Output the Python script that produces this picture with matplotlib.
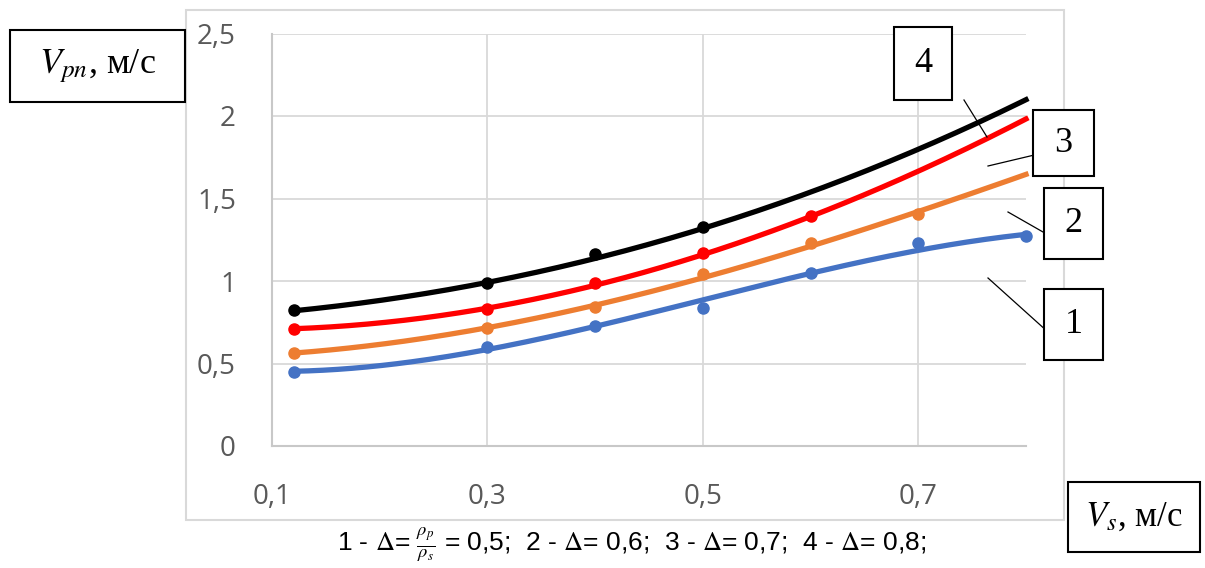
import numpy as np
import matplotlib.pyplot as plt
from matplotlib.patches import Rectangle
from matplotlib.lines import Line2D
from matplotlib.ticker import FuncFormatter

plt.rcParams['font.family'] = ['Open Sans', 'DejaVu Sans']
plt.rcParams['mathtext.fontset'] = 'stix'

W, H = 1205, 568

# точки (маркеры) по сериям
x_pts = [0.12, 0.3, 0.4, 0.5, 0.6, 0.7, 0.8]
v1_pts = [0.45, 0.60, 0.727, 0.835, 1.05, 1.228, 1.27]
v2_pts = [0.565, 0.713, 0.845, 1.042, 1.228, 1.406]
v3_pts = [0.707, 0.828, 0.986, 1.17, 1.394]
v4_pts = [0.824, 0.986, 1.164, 1.33]

# линии тренда
x_line = [0.12, 0.2, 0.3, 0.4, 0.5, 0.6, 0.7, 0.8]
v1_line = [0.45, 0.49, 0.59, 0.72, 0.88, 1.05, 1.19, 1.28]
v2_line = [0.565, 0.612, 0.72, 0.85, 1.02, 1.22, 1.41, 1.65]
v3_line = [0.707, 0.753, 0.835, 0.97, 1.16, 1.39, 1.67, 1.98]
v4_line = [0.824, 0.875, 0.985, 1.15, 1.32, 1.53, 1.80, 2.10]

colors = ['#4472C4', '#ED7D31', '#FF0000', '#000000']
x_ticks = [0.1, 0.3, 0.5, 0.7]
y_ticks = [0, 0.5, 1, 1.5, 2, 2.5]
caption = (r'1 - $\Delta$= $\frac{\rho_p}{\rho_s}$ = 0,5;  2 - $\Delta$= 0,6;  '
           r'3 - $\Delta$= 0,7;  4 - $\Delta$= 0,8;')

fig = plt.figure(figsize=(W / 100, H / 100), dpi=100)
ax = fig.add_axes([272 / W, 1 - 446 / H, (1026 - 272) / W, (446 - 33.5) / H])

xs = np.linspace(min(x_line), max(x_line), 200)
lines = [v1_line, v2_line, v3_line, v4_line]
pts = [v1_pts, v2_pts, v3_pts, v4_pts]
for yl, yp, c in zip(lines, pts, colors):
    k = np.polyfit(x_line, yl, 3)
    ax.plot(xs, np.polyval(k, xs), color=c, lw=3.8, clip_on=False, zorder=3)
    ax.plot(x_pts[:len(yp)], yp, 'o', color=c, ms=8, clip_on=False, zorder=4)

ax.set_xlim(0.1, 0.8)
ax.set_ylim(0, 2.5)
ax.set_xticks(x_ticks)
ax.set_yticks(y_ticks)
fmt = FuncFormatter(lambda v, p: ('%g' % v).replace('.', ','))
ax.xaxis.set_major_formatter(fmt)
ax.yaxis.set_major_formatter(fmt)
ax.grid(True, color='#d9d9d9', lw=1.3, zorder=0)
ax.set_axisbelow(True)
for s in ['top', 'right']:
    ax.spines[s].set_visible(False)
for s in ['left', 'bottom']:
    ax.spines[s].set_color('#c8c8c8')
    ax.spines[s].set_linewidth(1.5)
ax.tick_params(axis='both', length=0, labelsize=20, labelcolor='#595959')
ax.tick_params(axis='x', pad=27)
ax.tick_params(axis='y', pad=26)

# рамка области диаграммы
fig.patches.append(Rectangle((186 / W, 1 - 520 / H), (1064 - 186) / W, (520 - 10) / H,
                             transform=fig.transFigure, fill=False, ec='#d9d9d9', lw=1.5))


def box(x0, y0, x1, y1, text, size):
    fig.patches.append(Rectangle((x0 / W, 1 - y1 / H), (x1 - x0) / W, (y1 - y0) / H,
                                 transform=fig.transFigure, fill=True, fc='white',
                                 ec='black', lw=1.5, zorder=5))
    fig.text((x0 + x1) / 2 / W, 1 - (y0 + y1) / 2 / H, text, ha='center', va='center',
             fontsize=size, family=['Liberation Serif', 'DejaVu Serif'], zorder=6)


def leader(x0, y0, x1, y1):
    fig.lines.append(Line2D([x0 / W, x1 / W], [1 - y0 / H, 1 - y1 / H],
                            transform=fig.transFigure, color='black', lw=0.9))


box(10, 30, 185, 102, r'$V_{pn}$, м/с', 26)
box(1068, 482, 1200, 552, r'$V_s$, м/с', 25)
box(894, 27, 952, 100, '4', 26)
box(1033, 110, 1094, 176, '3', 26)
box(1044, 188, 1103, 259, '2', 26)
box(1044, 289, 1103, 360, '1', 26)
leader(964, 100, 987, 137)
leader(1047, 152, 988, 166)
leader(1043, 232, 1008, 212)
leader(988, 278, 1048, 332)

fig.text(632 / W, 1 - 545 / H, caption, ha='center', va='center', fontsize=19,
         family=['Liberation Sans', 'DejaVu Sans'])

fig.savefig('out.png', dpi=100)
